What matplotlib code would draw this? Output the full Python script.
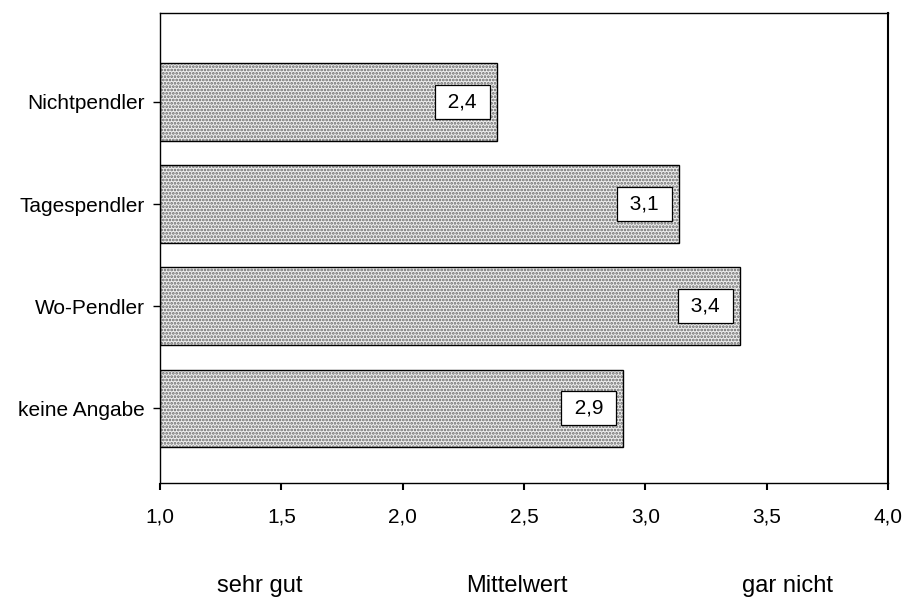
import matplotlib
matplotlib.use("Agg")
import matplotlib.pyplot as plt

plt.rcParams['font.family'] = ['Liberation Sans', 'DejaVu Sans']
plt.rcParams['hatch.linewidth'] = 1.3

# data (top to bottom)
categories = ["Nichtpendler", "Tagespendler", "Wo-Pendler", "keine Angabe"]
means = [2.39, 3.14, 3.39, 2.91]
labels = ["2,4", "3,1", "3,4", "2,9"]
xticks = [1.0, 1.5, 2.0, 2.5, 3.0, 3.5, 4.0]
xticklabels = ["1,0", "1,5", "2,0", "2,5", "3,0", "3,5", "4,0"]
scale_words = ["sehr gut", "Mittelwert", "gar nicht"]


def main():
    fig = plt.figure(figsize=(9.03, 5.99), dpi=100)
    ax = fig.add_axes([160 / 903, 116 / 599, 728 / 903, 470 / 599])

    ypos = list(range(len(categories)))[::-1]
    widths = [m - 1.0 for m in means]
    # stipple fill, then black outline on top
    ax.barh(ypos, widths, left=1.0, height=0.76, color='#eeeeee',
            edgecolor='#666666', linewidth=0, hatch='.....')
    bars = ax.barh(ypos, widths, left=1.0, height=0.76, fill=False,
                   edgecolor='black', linewidth=1.0)

    for b, lab in zip(bars, labels):
        ax.annotate(" " + lab + " ", (b.get_x() + b.get_width(), b.get_y() + b.get_height() / 2),
                    xytext=(-10.5, 0), textcoords='offset points',
                    ha='right', va='center', fontsize=15,
                    bbox=dict(boxstyle='square,pad=0.36', fc='white', ec='black', lw=0.9))

    ax.set_xlim(1.0, 4.0)
    ax.set_ylim(-0.73, 3.87)
    ax.set_xticks(xticks)
    ax.set_xticklabels(xticklabels, fontsize=15)
    ax.set_yticks(ypos)
    ax.set_yticklabels(categories, fontsize=15)
    ax.tick_params(axis='x', length=5, width=1.5, pad=12.5)
    ax.tick_params(axis='y', length=5, width=1.0, pad=6)
    for s in ax.spines.values():
        s.set_linewidth(1.0)
    ax.spines['right'].set_linewidth(1.5)

    # scale words under the axis
    for xp, w in zip([260, 517, 788], scale_words):
        fig.text(xp / 903, 7 / 599, w, ha='center', va='baseline', fontsize=17)

    fig.savefig("out.png", dpi=100)


if __name__ == '__main__':
    main()
